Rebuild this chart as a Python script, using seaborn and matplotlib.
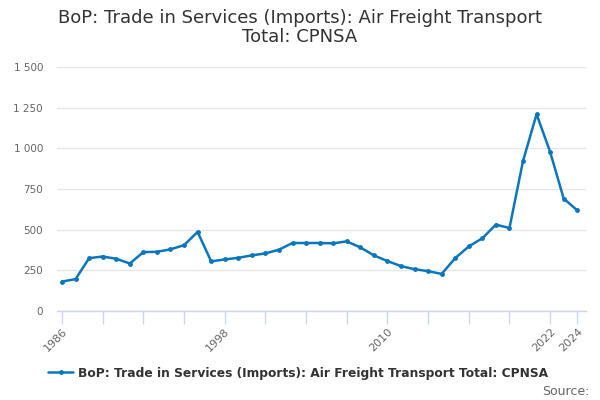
import matplotlib
matplotlib.use("Agg")
import matplotlib.pyplot as plt
import matplotlib.ticker as mticker
import pandas as pd
import seaborn as sns

# values (GBP million, annual)
years = list(range(1986, 2025))
values = [181, 196, 325, 335, 321, 292, 362, 364, 379, 405,
          486, 305, 317, 327, 342, 354, 377, 418, 418, 418,
          416, 428, 391, 342, 307, 276, 257, 245, 228, 325,
          397, 447, 531, 510, 922, 1210, 978, 691, 619]
series_name = "BoP: Trade in Services (Imports): Air Freight Transport Total: CPNSA"
title = "BoP: Trade in Services (Imports): Air Freight Transport\nTotal: CPNSA"
y_ticks = [0, 250, 500, 750, 1000, 1250, 1500]
x_ticks = list(range(1986, 2023, 3)) + [2024]
x_labels = ["1986", "1998", "2010", "2022", "2024"]

df = pd.DataFrame({"year": years, "value": values})

sns.set_style("white")
plt.rcParams['font.family'] = ['DejaVu Sans']

fig = plt.figure(figsize=(6, 4), dpi=100)
ax = fig.add_axes([0.095, 0.2225, 0.882, 0.61])

line_color = "#0a77bd"
sns.lineplot(data=df, x="year", y="value", ax=ax, color=line_color,
             linewidth=1.8, marker="o", markersize=3.5, markeredgewidth=0,
             label=series_name)

ax.set_ylim(0, 1500)
ax.set_xlim(1985.63, 2024.66)
ax.set_yticks(y_ticks)
ax.yaxis.set_major_formatter(mticker.FuncFormatter(lambda v, p: f"{int(v):,}".replace(",", " ")))
ax.grid(axis="y", color="#e6e6e6", linewidth=1)
ax.set_axisbelow(True)

ax.set_xticks(x_ticks)
ax.set_xticklabels([str(y) if str(y) in x_labels else "" for y in x_ticks],
                   rotation=45, ha="right", rotation_mode="anchor")
ax.tick_params(axis="x", length=9, width=1, color="#ccd6eb", labelsize=8,
               labelcolor="#666666", bottom=True, pad=2)
ax.tick_params(axis="y", length=0, labelsize=7.5, labelcolor="#666666", pad=10)

for s in ["top", "right", "left"]:
    ax.spines[s].set_visible(False)
ax.spines["bottom"].set_color("#ccd6eb")
ax.spines["bottom"].set_linewidth(1)

ax.set_xlabel("")
ax.set_ylabel("")

fig.suptitle(title, x=0.5, y=0.978, fontsize=13, color="#333333", linespacing=1.1)

ax.get_legend().remove()
handles, labels = ax.get_legend_handles_labels()
fig.legend(handles, labels, loc="center", bbox_to_anchor=(0.497, 0.067),
           frameon=False, prop={"weight": "bold", "size": 8.8},
           labelcolor="#333333", handlelength=2, handletextpad=0.4)

fig.text(0.983, 0.022, "Source:", ha="right", va="center", fontsize=9, color="#666666")

fig.savefig("out.png", dpi=100)
